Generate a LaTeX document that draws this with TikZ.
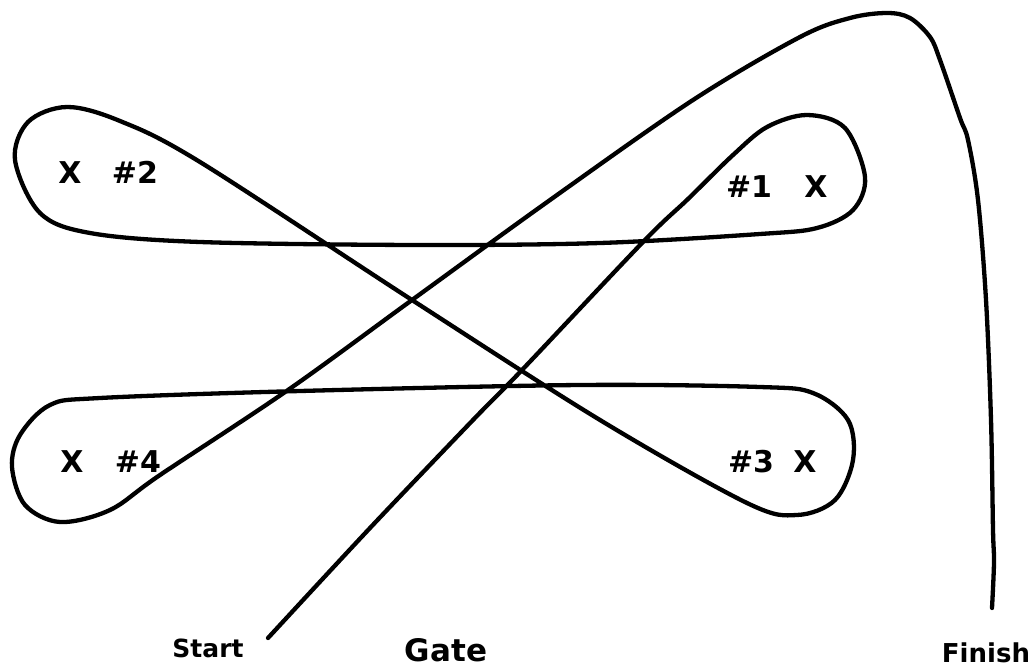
\documentclass[tikz,border=0pt]{standalone}
\usepackage{fontspec}
\setmainfont{DejaVu Sans}
\begin{document}
\begin{tikzpicture}[x=1pt,y=-1pt,
	pole/.style={font=\bfseries\fontsize{30}{30}\selectfont, anchor=base},
	word/.style={font=\bfseries\fontsize{#1}{#1}\selectfont, anchor=base},
	rope/.style={line width=4.3pt, line cap=round, line join=round}]
	\useasboundingbox (0,0) rectangle (1035,669);
	% the course, start to finish
	\draw[rope] plot[smooth, tension=0.55] coordinates {
		(268,638) (370,528) (473,420) (522,370) (643,242) (688,199)
		(733,155) (767,127) (807,115) (845,128) (865,177) (853,210) (817,228)
		(760,234) (600,243) (420,245) (200,242) (90,233) (40,213) (15,160)
		(28,122) (67,107) (120,121) (200,162) (412,300) (600,420) (747,503)
		(797,515) (835,500) (853,460) (848,420) (813,393) (760,387)
		(580,385) (300,391) (100,398) (50,405) (20,435) (12,467) (25,505)
		(60,522) (110,510) (160,475) (288,390) (412,300) (550,200)
		(693,100) (800,37) (850,18) (887,13) (910,18) (930,37) (940,60)
		(960,118) (968,140) (978,200) (986,300) (991,420) (993,530)
		(994,562) (992,608)};
	% poles
	\node[pole] (x2) at (70,183) {X};
	\node[pole] (n2) at (135,183) {\#2};
	\node[pole] (n1) at (749,197) {\#1};
	\node[pole] (x1) at (816,197) {X};
	\node[pole] (x4) at (72,472) {X};
	\node[pole] (n4) at (138,472) {\#4};
	\node[pole] (n3) at (751,472) {\#3};
	\node[pole] (x3) at (805,472) {X};
	% labels along the bottom
	\node[word=25] (start) at (208,657) {Start};
	\node[word=31] (gate) at (446,661) {Gate};
	\node[word=26] (finish) at (986,662) {Finish};
\end{tikzpicture}
\end{document}
